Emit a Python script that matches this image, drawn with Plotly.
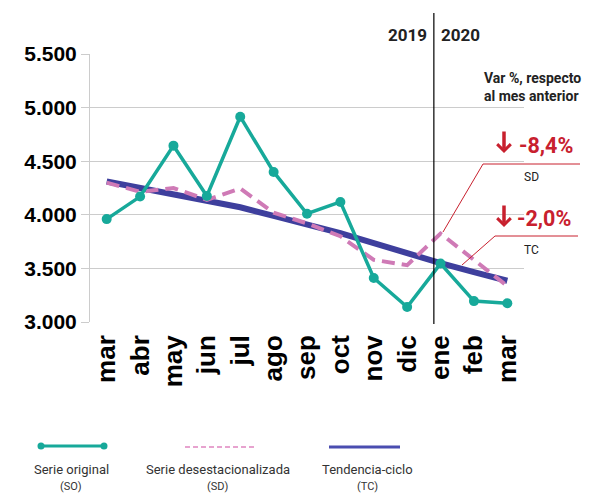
import plotly.graph_objects as go

months = ["mar", "abr", "may", "jun", "jul", "ago", "sep", "oct", "nov", "dic", "ene", "feb", "mar"]
serie_original = [3960, 4170, 4645, 4175, 4915, 4400, 4010, 4120, 3410, 3140, 3545, 3195, 3175]
serie_desest = [4300, 4215, 4250, 4140, 4245, 4020, 3920, 3800, 3580, 3530, 3825, 3575, 3335]
tendencia = [4310, 4250, 4200, 4140, 4070, 3990, 3910, 3830, 3735, 3640, 3550, 3465, 3385]
y_ticks = [3000, 3500, 4000, 4500, 5000, 5500]
y_labels = ["3.000", "3.500", "4.000", "4.500", "5.000", "5.500"]

TEAL = "#17a99a"
PINK = "#cf7ab6"
NAVY = "#3e3f9d"
RED = "#c8202e"
COND = "Roboto, Liberation Sans, sans-serif"
BOLD = "Liberation Sans, Arial, sans-serif"

# page body adds an 8px offset; work in reference pixel coordinates
OFF = 8
W, H = 590 - OFF, 493 - OFF
L, R, T, B = 90 - OFF, 524 - OFF, 54 - OFF, 322 - OFF


def px(xp):
    return (xp - OFF - L) / (R - L)


def py(yp):
    return (B - (yp - OFF)) / (B - T)


xs = list(range(len(months)))

fig = go.Figure()
fig.add_trace(go.Scatter(x=xs, y=tendencia, mode="lines",
                         line=dict(color=NAVY, width=6), name="TC"))
fig.add_trace(go.Scatter(x=xs, y=serie_desest, mode="lines",
                         line=dict(color=PINK, width=4, dash="13px,7px"), name="SD"))
fig.add_trace(go.Scatter(x=xs, y=serie_original, mode="lines+markers",
                         line=dict(color=TEAL, width=3.5),
                         marker=dict(color=TEAL, size=10), name="SO"))

shapes = []
shapes.append(dict(type="line", xref="x", yref="paper", x0=9.8, x1=9.8,
                   y0=py(324), y1=py(13), line=dict(color="black", width=1.2)))
for (x0, y0, x1, y1) in [(443, 232, 483, 164), (483, 164, 580, 164),
                         (462, 265, 495, 236), (495, 236, 578, 236)]:
    shapes.append(dict(type="line", xref="paper", yref="paper",
                       x0=px(x0), y0=py(y0), x1=px(x1), y1=py(y1),
                       line=dict(color=RED, width=1)))
shapes.append(dict(type="line", xref="paper", yref="paper", x0=px(41), x1=px(104),
                   y0=py(446), y1=py(446), line=dict(color=TEAL, width=3)))
for cx in (41, 104):
    shapes.append(dict(type="circle", xref="paper", yref="paper",
                       x0=px(cx - 3.5), x1=px(cx + 3.5), y0=py(442.5), y1=py(449.5),
                       fillcolor=TEAL, line=dict(color=TEAL, width=0)))
shapes.append(dict(type="line", xref="paper", yref="paper", x0=px(185), x1=px(255),
                   y0=py(447), y1=py(447), line=dict(color="#e7a3cf", width=2, dash="5px,3px")))
shapes.append(dict(type="line", xref="paper", yref="paper", x0=px(329), x1=px(400),
                   y0=py(447), y1=py(447), line=dict(color="#4a4db0", width=3)))

ann = []


def text(xp, yp, s, size, color="#222", weight="normal", xanchor="center", align="center"):
    ann.append(dict(xref="paper", yref="paper", x=px(xp), y=py(yp), text=s,
                    showarrow=False, xanchor=xanchor, yanchor="middle", align=align,
                    font=dict(size=size, color=color, family=COND, weight=weight)))


def down_arrow(xp, y_tip):
    ann.append(dict(xref="paper", yref="paper", x=px(xp), y=py(y_tip), text="",
                    showarrow=True, ax=0, ay=-23, arrowhead=4, arrowsize=0.75,
                    arrowwidth=3.5, arrowcolor=RED, standoff=0, startstandoff=0))


text(429, 35, "2019", 17, "#222", "bold", xanchor="right")
text(439, 35, "2020", 17, "#222", "bold", xanchor="left")
text(482, 87, "Var %, respecto<br>al mes anterior", 14, "#222", "bold", xanchor="left", align="left")
down_arrow(504, 153)
text(517, 145, "-8,4%", 21.5, RED, "bold", xanchor="left")
text(531, 177, "SD", 12, "#222")
down_arrow(504, 227)
text(515, 218, "-2,0%", 21.5, RED, "bold", xanchor="left")
text(531, 250, "TC", 12, "#222")
text(71, 469, "Serie original", 13, "#333")
text(71, 486, "(SO)", 11, "#333")
text(218, 469, "Serie desestacionalizada", 13, "#333")
text(218, 486, "(SD)", 11, "#333")
text(367, 469, "Tendencia-ciclo", 13, "#333")
text(367, 486, "(TC)", 11, "#333")

fig.update_layout(
    width=W, height=H,
    margin=dict(l=L, r=W - R, t=T, b=H - B, pad=0),
    paper_bgcolor="white", plot_bgcolor="white",
    showlegend=False,
    shapes=shapes, annotations=ann,
    xaxis=dict(range=[-0.5, 12.5], tickmode="array", tickvals=xs, ticktext=months,
               tickangle=-90, showgrid=False, zeroline=False, showline=False,
               ticks="", ticklabelstandoff=7,
               tickfont=dict(size=26, color="black", family=BOLD, weight="bold"),
               fixedrange=True),
    yaxis=dict(range=[3000, 5500], tickmode="array", tickvals=y_ticks, ticktext=y_labels,
               showgrid=True, gridcolor="#cccccc", gridwidth=1, zeroline=False,
               showline=True, linecolor="#cccccc", linewidth=1,
               ticks="outside", ticklen=8, tickcolor="#cccccc",
               tickfont=dict(size=21, color="black", family=BOLD, weight="bold"),
               fixedrange=True),
)

fig.write_html("out.html")
